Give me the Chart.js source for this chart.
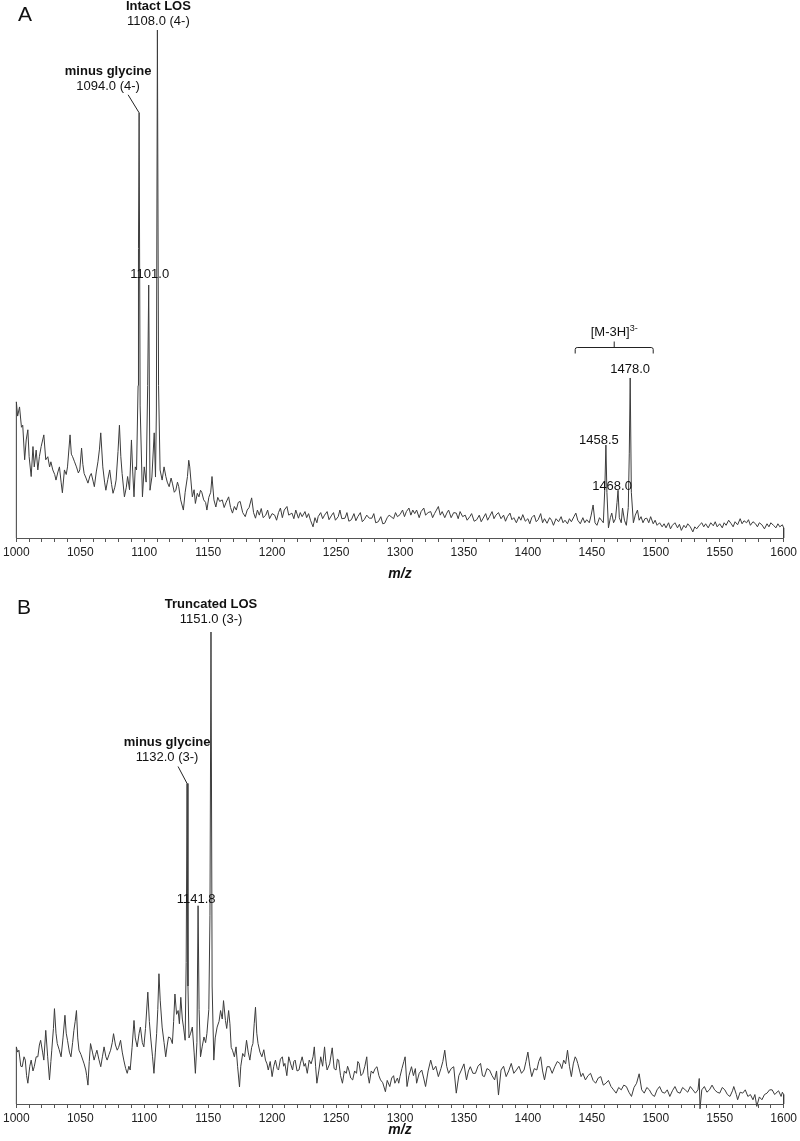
<!DOCTYPE html>
<html>
<head>
<meta charset="utf-8">
<script src="https://cdn.jsdelivr.net/npm/chart.js@4/dist/chart.umd.min.js"></script>
<style>
  body { margin: 0; background: #fff; }
  #wrap { position: relative; width: 800px; height: 1141px; overflow: hidden; }
  canvas { position: absolute; left: 0; }
  #chartA { top: 0; }
  #chartB { top: 566px; }
</style>
</head>
<body>
<div id="wrap">
  <canvas id="chartA" width="800" height="590"></canvas>
  <canvas id="chartB" width="800" height="575"></canvas>
</div>
<script>
// m/z, relative intensity (per mille of the tallest peak)
const spectrumA = [
  [1000,0],[1000,268],[1001,240],[1002.5,258],[1004,218],[1005,222],[1006.5,154],[1007.7,193],[1009,213],[1010,160],
  [1011.6,121],[1013,180],[1014,140],[1015.5,173],[1016.8,134],[1018,160],[1019.4,180],[1021.5,203],[1023,154],[1024.6,160],
  [1026,140],[1027,150],[1028.5,134],[1030,125],[1031,114],[1032.5,130],[1033.7,140],[1035,110],[1036,89],[1037.6,134],
  [1039,125],[1040,140],[1042,203],[1043,165],[1044,160],[1045.5,150],[1047,140],[1048.5,128],[1049.6,134],[1051,177],
  [1052,145],[1053,127],[1054.5,118],[1056,108],[1057.5,122],[1058.6,127],[1060,112],[1061,101],[1062.5,130],[1063.8,150],
  [1065,175],[1066,207],[1067.6,140],[1069,110],[1070,94],[1071.5,115],[1073,134],[1074.5,105],[1075.6,88],[1077,100],
  [1078,114],[1079.5,170],[1080.6,222],[1081.7,160],[1082.7,127],[1084.5,81],[1086,100],[1087,121],[1088.5,95],[1090,193],
  [1091,130],[1092,81],[1093,140],[1094,134],[1095.2,300],[1095.5,570],[1096,837],[1096.8,260],[1098.6,81],[1100,140],
  [1101.5,110],[1102.7,300],[1103.5,498],[1104.5,94],[1106,120],[1107.8,207],[1108.8,120],[1109.5,250],[1110.3,1000],[1111.2,300],
  [1112.4,134],[1114,114],[1115.5,140],[1116.9,121],[1118,110],[1119.5,101],[1121,118],[1122,108],[1123.5,90],[1124.7,94],
  [1126,110],[1127,101],[1128.5,75],[1130.6,55],[1132,90],[1133.8,121],[1134.8,153],[1135.6,140],[1137.6,81],[1139,95],
  [1140,68],[1141.5,88],[1142.8,81],[1144,94],[1145,90],[1146.5,75],[1148,70],[1149,55],[1150.5,80],[1152,90],
  [1153,121],[1154.5,75],[1156,61],[1157.5,80],[1159,72],[1161,75],[1162.5,60],[1164,70],[1166,81],[1167.5,60],
  [1169,49],[1170.5,62],[1172,55],[1173.5,70],[1175,72],[1177,50],[1179,42],[1180.5,55],[1182,60],[1184,79],
  [1185.5,50],[1187,39],[1188.5,55],[1190,45],[1191.5,58],[1193,40],[1195,45],[1196.5,55],[1198,38],[1200,48],
  [1202,45],[1203.5,35],[1205,50],[1206.5,59],[1208,40],[1209.5,55],[1211.6,62],[1213,45],[1215.5,49],[1217,38],
  [1218.5,55],[1220.6,39],[1222,50],[1223.5,42],[1225.7,52],[1227,40],[1228.5,48],[1230,35],[1232,22],[1233.5,40],
  [1235,30],[1236,42],[1238,50],[1239.5,38],[1241,45],[1243,52],[1244.5,36],[1246.6,45],[1248,50],[1249.5,35],
  [1251.7,42],[1253,55],[1254.5,38],[1257,39],[1258.5,50],[1260,33],[1262,36],[1264,48],[1265.5,34],[1267,42],
  [1269,50],[1270.5,32],[1272,36],[1274,45],[1276,39],[1278,39],[1279.5,48],[1281,30],[1283,32],[1285,42],
  [1286.5,28],[1288,29],[1290,40],[1291.5,45],[1293,42],[1295,38],[1296.5,50],[1298,42],[1300,46],[1302,55],
  [1303.5,42],[1305,52],[1307,59],[1308.5,45],[1310,55],[1311.5,48],[1313,55],[1315,40],[1316.5,52],[1318.6,59],
  [1320,45],[1322,50],[1324,52],[1325.5,40],[1327,48],[1328.5,55],[1330,62],[1331.5,45],[1333,52],[1335,40],
  [1336.6,49],[1338,55],[1340,40],[1342,50],[1344,49],[1345.5,38],[1347,52],[1349,42],[1351,45],[1352.5,35],
  [1354.6,42],[1356,48],[1358,33],[1360,36],[1362,45],[1363.5,32],[1365,39],[1367,48],[1368.5,35],[1370,42],
  [1372,52],[1373.5,38],[1375,45],[1377,50],[1379,38],[1381,45],[1382.5,33],[1384,42],[1386,49],[1387.5,36],
  [1389,40],[1391,30],[1393,42],[1394.5,35],[1396,46],[1398,33],[1400,38],[1401.5,28],[1403,40],[1405,45],
  [1406.5,32],[1408,36],[1410,48],[1411.5,30],[1413,38],[1415,29],[1417,40],[1418.5,35],[1420,25],[1422,38],
  [1424,32],[1426,42],[1427.5,30],[1429,35],[1431,28],[1432.5,38],[1434,32],[1436,42],[1437.5,49],[1439,35],
  [1441,28],[1443,40],[1444.5,30],[1446,36],[1448,30],[1449.5,45],[1451,65],[1452.5,30],[1454,25],[1456,40],
  [1457.5,35],[1459,30],[1460.2,100],[1461,183],[1461.8,90],[1463,20],[1464.5,40],[1465.6,49],[1467,30],[1468.5,38],
  [1469.7,70],[1470.5,94],[1471.5,40],[1473,30],[1474,59],[1475.5,35],[1477,25],[1478.5,60],[1479.3,167],[1480,315],
  [1480.9,90],[1482.5,30],[1484,45],[1485.7,55],[1487,35],[1488.5,42],[1490,30],[1491.5,38],[1493,39],[1494.5,30],
  [1496,42],[1498,28],[1499.5,35],[1501,25],[1503,30],[1505,22],[1506.5,28],[1508,20],[1510,30],[1511.5,18],
  [1513,25],[1515,30],[1517,20],[1518.5,27],[1520,15],[1522,25],[1523.5,20],[1525,28],[1527,22],[1529,12],
  [1530.5,22],[1532,18],[1534,25],[1536,30],[1537.5,22],[1539,28],[1541,20],[1543,30],[1545,24],[1546.5,32],
  [1548,22],[1550,28],[1552,20],[1553.5,30],[1555,25],[1557,35],[1559,28],[1560.5,22],[1562,32],[1564,26],
  [1566,38],[1567.5,28],[1569,34],[1571,30],[1572.5,36],[1574,25],[1576,32],[1578,28],[1579.5,22],[1581,30],
  [1583,26],[1585,18],[1587,28],[1588.5,22],[1590,30],[1592,25],[1594,20],[1595.5,28],[1597,22],[1599,26],
  [1600,20],[1600,0]
];

const spectrumB = [
  [1000,0],[1000,121],[1001,110],[1002,114],[1003.5,80],[1004.6,79],[1006,100],[1007,93],[1008,60],[1009,44],
  [1010.5,80],[1011.6,93],[1013,70],[1014,79],[1015.5,100],[1016.8,100],[1018,125],[1019,135],[1020.5,110],[1021.5,93],
  [1023,156],[1024.5,100],[1025.9,51],[1027,90],[1027.7,114],[1029,160],[1029.8,202],[1031,150],[1032,128],[1033.5,115],
  [1035,100],[1036.5,140],[1038,188],[1039,150],[1040,135],[1041.5,110],[1042.7,100],[1044,130],[1045,156],[1046,175],
  [1047,198],[1048,140],[1049,114],[1050.5,105],[1052,93],[1053,85],[1054.3,72],[1055,60],[1056,40],[1057,90],
  [1058,128],[1059.5,110],[1060.8,93],[1062,105],[1063,114],[1064.5,95],[1066,79],[1067.3,100],[1068.6,121],[1070,100],
  [1071,93],[1072.5,105],[1073.7,114],[1075,130],[1076,149],[1077.5,125],[1078.9,114],[1080,120],[1081.5,135],[1082.8,110],
  [1084,93],[1085.5,75],[1086.7,65],[1088,80],[1089,72],[1090.5,120],[1092,177],[1093,140],[1094.5,121],[1096,150],
  [1097,163],[1098.5,130],[1099.7,121],[1101,160],[1102.8,237],[1104,175],[1105,142],[1106.5,100],[1107.6,65],[1108.7,110],
  [1109.7,149],[1110.6,200],[1111.5,276],[1112.5,220],[1114,163],[1115.5,130],[1116.8,100],[1118,125],[1119,142],[1120.5,140],
  [1122,128],[1123,175],[1124,233],[1125.3,190],[1126.5,198],[1127.5,170],[1128.6,226],[1129.8,180],[1130.7,163],[1132,135],
  [1132.8,300],[1133.5,679],[1134.2,250],[1135,140],[1136.3,150],[1137.6,163],[1139,110],[1140,65],[1141.2,130],[1142.1,420],
  [1142.9,200],[1144,100],[1145.3,121],[1146.7,142],[1148,130],[1149,149],[1150.5,200],[1151.4,400],[1152.2,1000],[1153.1,250],
  [1154.4,93],[1155.5,140],[1157,163],[1158.5,175],[1159.7,198],[1161,180],[1162,219],[1163.5,177],[1164.5,160],[1166,198],
  [1167,170],[1168,120],[1169,114],[1170.5,100],[1171.8,121],[1173,80],[1174.5,36],[1175.5,80],[1177,107],[1178.5,100],
  [1180,135],[1181.3,110],[1182.6,93],[1184,120],[1185,128],[1186,170],[1187,205],[1188,150],[1189,128],[1190.5,110],
  [1192,100],[1193.5,115],[1194.8,93],[1196,85],[1197,72],[1198.5,90],[1200,58],[1201.3,80],[1202.6,93],[1204,75],
  [1205,72],[1206.5,95],[1208,100],[1209,80],[1210,86],[1211.5,60],[1213,100],[1214.5,85],[1216,72],[1217,90],
  [1218,93],[1219.5,70],[1221,72],[1222,85],[1223.5,100],[1225,80],[1226,86],[1227.5,65],[1229,93],[1230.5,85],
  [1232,100],[1233,121],[1234,80],[1235,44],[1236.5,70],[1238,100],[1239.5,80],[1241,121],[1242,90],[1243,72],
  [1245,85],[1247,119],[1248.5,75],[1250,72],[1251,95],[1252,93],[1253.5,60],[1255,44],[1256.5,70],[1258,65],
  [1259,80],[1260,72],[1261.5,55],[1263,51],[1264.5,70],[1266,65],[1267,90],[1268,86],[1269.5,60],[1271,65],
  [1272.5,80],[1274,100],[1275,60],[1276,44],[1277.5,70],[1279,65],[1280.5,75],[1282,79],[1283.5,60],[1284.8,51],
  [1286.5,45],[1288.6,26],[1290,50],[1292,37],[1293.5,55],[1295,60],[1296,44],[1298,55],[1299,44],[1300,58],
  [1301.5,75],[1303,90],[1304,100],[1305.5,37],[1307,60],[1309,79],[1310.5,60],[1312,75],[1313,44],[1315,65],
  [1317,72],[1318.5,55],[1320,37],[1322,70],[1324,93],[1326,72],[1328,80],[1330,58],[1332,75],[1333.5,90],
  [1335,114],[1336.5,80],[1338,65],[1340,75],[1342,79],[1344,23],[1346,60],[1348,72],[1350,85],[1352,51],
  [1353.5,70],[1355,79],[1357,65],[1359,65],[1361,80],[1363,86],[1364.5,60],[1366,58],[1368,75],[1370,72],
  [1372,60],[1374,51],[1375.5,70],[1377,19],[1379,72],[1381,80],[1383,58],[1385,70],[1387,86],[1389,65],
  [1391,72],[1393,80],[1395,65],[1397,72],[1398.5,90],[1400,110],[1401.5,80],[1403,58],[1405,75],[1407,72],
  [1408.5,90],[1410,100],[1411.5,70],[1413,51],[1415,79],[1417,79],[1419,65],[1421,79],[1423,90],[1425,86],
  [1426.5,75],[1428,93],[1429.5,85],[1431,114],[1432.5,80],[1434,58],[1435.5,85],[1437,100],[1438,95],[1439,86],
  [1440.5,70],[1441.6,58],[1443,65],[1445,51],[1447,60],[1449,65],[1451,50],[1453,44],[1455,55],[1457,58],
  [1459,40],[1461,44],[1463,50],[1465,37],[1467,30],[1469,23],[1471,35],[1473,30],[1475,40],[1477,37],
  [1479,25],[1481,16],[1483,35],[1485,44],[1487,64],[1489,30],[1491,23],[1493,35],[1495,30],[1497,20],
  [1499,16],[1501,30],[1503,37],[1505,25],[1507,23],[1509,30],[1511,16],[1513,28],[1515,37],[1517,25],
  [1519,23],[1521,35],[1523,30],[1525,25],[1527,37],[1529,30],[1531,23],[1533,30],[1534,54],[1534.6,-10],
  [1536,30],[1538,37],[1540,25],[1542,30],[1544,40],[1546,30],[1548,25],[1550,23],[1552,35],[1554,30],
  [1556,20],[1558,16],[1560,28],[1561,37],[1563,20],[1564,9],[1566,25],[1568,23],[1570,30],[1572,16],
  [1574,20],[1576,9],[1577.5,20],[1579,-5],[1581,15],[1583,9],[1585,20],[1587,23],[1589,30],[1591,30],
  [1593,20],[1594,23],[1596,28],[1598,16],[1599,25],[1600,20],[1600,0]
];

// labelled peaks
const peaksA = [
  {mz: 1110.3, value: 1000, title: 'Intact LOS', text: '1108.0 (4-)'},
  {mz: 1096, value: 837, title: 'minus glycine', text: '1094.0 (4-)'},
  {mz: 1103.5, value: 498, text: '1101.0'},
  {mz: 1480, value: 315, text: '1478.0'},
  {mz: 1461, value: 183, text: '1458.5'},
  {mz: 1470.5, value: 94, text: '1468.0'}
];
const bracketA = {from: 1437, to: 1498, text: '[M-3H]', sup: '3-'};

const peaksB = [
  {mz: 1152.2, value: 1000, title: 'Truncated LOS', text: '1151.0 (3-)'},
  {mz: 1133.5, value: 679, title: 'minus glycine', text: '1132.0 (3-)'},
  {mz: 1142.1, value: 420, text: '1141.8'}
];

// label placement relative to the peak top, in pixels
const offsetsA = [
  {dx: 1, dy: -9},
  {dx: -31, dy: -26, leader: [-11, -18]},
  {dx: 1, dy: -11},
  {dx: 0, dy: -9},
  {dx: -7, dy: -5},
  {dx: -6, dy: -4}
];
const offsetsB = [
  {dx: 0, dy: -13},
  {dx: -20, dy: -26, leader: [-9, -17]},
  {dx: -2, dy: -6}
];

const FONT = '"Liberation Sans", Arial, Helvetica, sans-serif';

function annotator(peaks, offsets, bracket, letter){
  return {
    id: 'annot',
    afterDatasetsDraw(chart){
      const ctx = chart.ctx, x = chart.scales.x, y = chart.scales.y;
      ctx.save();
      ctx.fillStyle = '#111';
      ctx.strokeStyle = '#222';
      ctx.lineWidth = 1;
      ctx.textAlign = 'center';
      ctx.textBaseline = 'middle';
      peaks.forEach((p, i) => {
        const o = offsets[i];
        const px = x.getPixelForValue(p.mz), py = y.getPixelForValue(p.value);
        if(p.title){
          ctx.font = 'bold 13px ' + FONT;
          ctx.fillText(p.title, px + o.dx, py + o.dy - 15);
        }
        ctx.font = '13px ' + FONT;
        ctx.fillText(p.text, px + o.dx, py + o.dy);
        if(o.leader){
          ctx.beginPath();
          ctx.moveTo(px + o.leader[0], py + o.leader[1]);
          ctx.lineTo(px, py);
          ctx.stroke();
        }
      });
      if(bracket){
        const data = chart.data.datasets[0].data.filter(d => d.x >= bracket.from && d.x <= bracket.to);
        const top = Math.max(...data.map(d => d.y));
        const by = Math.round(y.getPixelForValue(top) - 31) + 0.5;
        const x1 = x.getPixelForValue(bracket.from), x2 = x.getPixelForValue(bracket.to);
        const xm = (x1 + x2) / 2;
        ctx.beginPath();
        ctx.moveTo(x1, by + 6); ctx.lineTo(x1, by + 2); ctx.quadraticCurveTo(x1, by, x1 + 2, by);
        ctx.lineTo(x2 - 2, by); ctx.quadraticCurveTo(x2, by, x2, by + 2); ctx.lineTo(x2, by + 6);
        ctx.moveTo(xm, by); ctx.lineTo(xm, by - 6);
        ctx.stroke();
        ctx.font = '13px ' + FONT;
        const w1 = ctx.measureText(bracket.text).width;
        ctx.font = '9px ' + FONT;
        const w2 = ctx.measureText(bracket.sup).width;
        const start = xm - (w1 + w2) / 2;
        ctx.textAlign = 'left';
        ctx.font = '13px ' + FONT;
        ctx.fillText(bracket.text, start, by - 15);
        ctx.font = '9px ' + FONT;
        ctx.fillText(bracket.sup, start + w1, by - 19);
      }
      ctx.textAlign = 'left';
      ctx.font = '21px ' + FONT;
      ctx.fillText(letter.text, letter.left, letter.top);
      ctx.restore();
    }
  };
}

function makeChart(id, spectrum, peaks, offsets, bracket, letter, padTop, axisHeight, titlePad){
  return new Chart(id, {
    type: 'line',
    data: {
      datasets: [{
        data: spectrum.map(p => ({x: p[0], y: p[1]})),
        borderColor: '#3c3c3c',
        borderWidth: 1,
        pointRadius: 0,
        fill: false,
        tension: 0,
        clip: false
      }]
    },
    options: {
      responsive: false,
      animation: false,
      events: [],
      layout: {padding: {left: 15, right: 9, top: padTop, bottom: 0}},
      plugins: {legend: {display: false}, tooltip: {enabled: false}},
      scales: {
        x: {
          type: 'linear',
          min: 1000,
          max: 1600,
          afterFit: s => { s.height = axisHeight; },
          border: {display: true, color: '#555', width: 1},
          grid: {drawOnChartArea: false, drawTicks: true, tickLength: 4, color: '#555'},
          ticks: {
            stepSize: 10,
            autoSkip: false,
            maxRotation: 0,
            padding: 3,
            color: '#222',
            font: {family: FONT, size: 12},
            callback: v => v % 50 === 0 ? String(v) : ''
          },
          title: {
            display: true,
            text: 'm/z',
            color: '#111',
            font: {family: FONT, size: 14, weight: 'bold', style: 'italic'},
            padding: {top: 0, bottom: titlePad}
          }
        },
        y: {display: false, min: 0, max: 1000}
      }
    },
    plugins: [annotator(peaks, offsets, bracket, letter)]
  });
}

makeChart('chartA', spectrumA, peaksA, offsetsA, bracketA, {text: 'A', left: 18, top: 15}, 30, 52, 7);
makeChart('chartB', spectrumB, peaksB, offsetsB, null, {text: 'B', left: 17, top: 42}, 66, 37, 2);
</script>
</body>
</html>
